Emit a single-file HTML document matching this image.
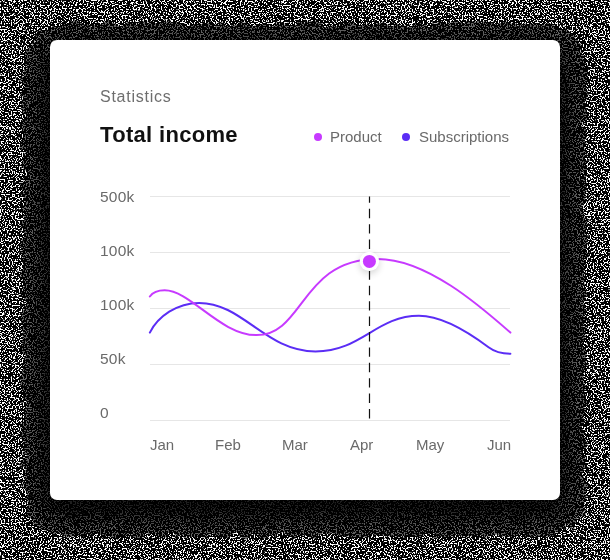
<!DOCTYPE html>
<html><head><meta charset="utf-8">
<style>
html,body{margin:0;padding:0;background:#000;}
body{width:610px;height:560px;overflow:hidden;position:relative;font-family:"Liberation Sans",sans-serif;}
#noise{position:absolute;left:0;top:0;width:610px;height:560px;display:block;}
#card{position:absolute;left:50px;top:40px;width:510px;height:460px;border-radius:7px;background:#fff;}
.t{position:absolute;white-space:nowrap;line-height:1;will-change:transform;}
#stat{left:99.5px;top:89px;font-size:16px;color:#6e6e6e;letter-spacing:0.75px;}
#title{left:100px;top:123.5px;font-size:22px;font-weight:bold;color:#111;letter-spacing:0.32px;}
.leg{font-size:15px;color:#6a6a6a;top:129px;}
.yl{font-size:15.5px;color:#6a6a6a;left:99.6px;letter-spacing:.25px;margin-top:-0.2px;}
.xl{font-size:15px;color:#6a6a6a;top:437px;}
#chart{position:absolute;left:0;top:0;width:610px;height:560px;}
</style></head><body>
<svg id="noise" width="610" height="560" viewBox="0 0 610 560">
 <filter id="nf" x="0" y="0" width="100%" height="100%" color-interpolation-filters="sRGB">
  <feTurbulence type="fractalNoise" baseFrequency="0.72" numOctaves="1" seed="7" result="n"/>
  <feColorMatrix type="matrix" values="0 0 0 0 1  0 0 0 0 1  0 0 0 0 1  40 0 0 0 -21.72"/>
 </filter>
 <rect width="610" height="560" fill="#000"/>
 <rect width="610" height="560" filter="url(#nf)"/>
<filter id="sh" x="-20%" y="-20%" width="140%" height="140%" color-interpolation-filters="sRGB">
  <feGaussianBlur in="SourceAlpha" stdDeviation="13.5"/>
  <feComponentTransfer result="m"><feFuncA type="table" tableValues="0 0 0 0 0.28 0.6 0.603 0.607 0.61 0.614 0.617 0.62 0.624 0.627 0.631 0.634 0.638 0.641 0.644 0.648 0.651 0.655 0.658 0.661 0.665 0.668 0.671 0.674 0.677 0.679 0.682 0.684 0.687 0.69 0.692 0.695 0.697 0.7 0.703 0.705 0.708 0.711 0.713 0.716 0.718 0.721 0.724 0.726 0.729 0.731 0.734 0.737 0.739 0.742 0.745 0.747 0.75 0.751 0.753 0.755 0.756 0.758 0.76 0.761 0.763 0.764 0.766 0.768 0.769 0.771 0.772 0.774 0.776 0.777 0.779 0.78 0.782 0.784 0.785 0.787 0.788 0.79 0.792 0.793 0.795 0.797 0.798 0.8 0.801 0.803 0.805 0.806 0.808 0.809 0.811 0.813 0.814 0.816 0.817 0.819 0.821 0.822 0.824 0.826 0.827 0.829 0.83 0.832 0.834 0.835 0.837 0.838 0.84 0.842 0.843 0.845 0.846 0.848 0.85 0.851 0.853 0.855 0.856 0.858 0.859 0.861 0.863 0.864 0.865 0.866 0.866 0.866 0.867 0.867 0.868 0.868 0.869 0.869 0.869 0.87 0.87 0.871 0.871 0.872 0.872 0.872 0.873 0.873 0.874 0.874 0.874 0.875 0.875 0.876 0.876 0.877 0.877 0.877 0.878 0.878 0.879 0.879 0.879 0.88 0.88 0.881 0.881 0.882 0.882 0.882 0.883 0.883 0.884 0.884 0.885 0.885 0.885 0.886 0.886 0.887 0.887 0.887 0.888 0.888 0.889 0.889 0.89 0.89 0.89 0.891 0.891 0.892 0.892 0.893 0.893 0.893 0.894 0.894 0.895 0.895 0.895 0.895 0.895 0.895 0.895 0.896 0.896 0.896 0.896 0.896 0.896 0.896 0.896 0.896 0.896 0.896 0.897 0.897 0.897 0.897 0.897 0.897 0.897 0.897 0.897 0.897 0.897 0.898 0.898 0.898 0.898 0.898 0.898 0.898 0.898 0.898 0.898 0.898 0.898 0.899 0.899 0.899 0.899 0.899 0.899 0.899 0.899 0.899 0.899 0.899 0.9 0.9 0.9 0.9 0.9 0.9"/></feComponentTransfer>
  <feTurbulence type="fractalNoise" baseFrequency="0.1" numOctaves="4" seed="23" result="t"/>
  <feDisplacementMap in="m" in2="t" scale="13" xChannelSelector="R" yChannelSelector="G"/>
 </filter>
 <rect x="49" y="50" width="510" height="460" rx="7" fill="#000" filter="url(#sh)"/>
</svg>
<div id="card"></div>
<svg id="chart" width="610" height="560" viewBox="0 0 610 560">
 <g stroke="#e6e6e6" stroke-width="1" shape-rendering="crispEdges">
  <line x1="150" x2="510" y1="196.5" y2="196.5"/>
  <line x1="150" x2="510" y1="252.5" y2="252.5"/>
  <line x1="150" x2="510" y1="308.5" y2="308.5"/>
  <line x1="150" x2="510" y1="364.5" y2="364.5"/>
  <line x1="150" x2="510" y1="420.5" y2="420.5"/>
 </g>
 <path fill="none" stroke="#5b2df5" stroke-width="2" stroke-linecap="round" d="M149.85 332.58C157.95 316.50 177.00 302.90 199.20 302.90C242.60 302.90 265.68 351.40 315.50 351.40C361.50 351.40 376.48 315.79 418.90 315.79C446.07 315.79 477.24 338.81 488.54 347.29C496.12 352.99 503.42 353.75 510.40 353.75"/>
 <path fill="none" stroke="#c73aff" stroke-width="2" stroke-linecap="round" d="M149.85 296.50C152.71 292.47 157.31 290.35 164.68 290.35C190.68 290.35 220.07 335.11 256.57 335.11C304.20 335.11 300.80 258.95 377.60 258.95C426.46 258.95 480.05 305.92 510.40 332.60"/>
 <line x1="369.5" x2="369.5" y1="196.5" y2="420" stroke="#111" stroke-width="1.2" stroke-dasharray="9.4 6" stroke-dashoffset="3.1"/>
 <filter id="ds" x="-100%" y="-100%" width="300%" height="300%"><feGaussianBlur stdDeviation="3.5"/></filter>
 <circle cx="369.4" cy="264" r="10" fill="#000" opacity=".16" filter="url(#ds)"/>
 <circle cx="369.4" cy="261.4" r="9.7" fill="#fff"/>
 <circle cx="369.4" cy="261.4" r="6.5" fill="#c73aff"/>
 <circle cx="318" cy="137" r="4" fill="#c73aff"/>
 <circle cx="406" cy="137" r="4" fill="#5b2df5"/>
</svg>
<div class="t" id="stat">Statistics</div>
<div class="t" id="title">Total income</div>
<div class="t leg" style="left:330px">Product</div>
<div class="t leg" style="left:419px">Subscriptions</div>
<div class="t yl" style="top:189px">500k</div>
<div class="t yl" style="top:243px">100k</div>
<div class="t yl" style="top:297px">100k</div>
<div class="t yl" style="top:351px">50k</div>
<div class="t yl" style="top:405px">0</div>
<div class="t xl" style="left:150px">Jan</div>
<div class="t xl" style="left:215px">Feb</div>
<div class="t xl" style="left:282px">Mar</div>
<div class="t xl" style="left:350px">Apr</div>
<div class="t xl" style="left:416px">May</div>
<div class="t xl" style="left:487px">Jun</div>
</body></html>
